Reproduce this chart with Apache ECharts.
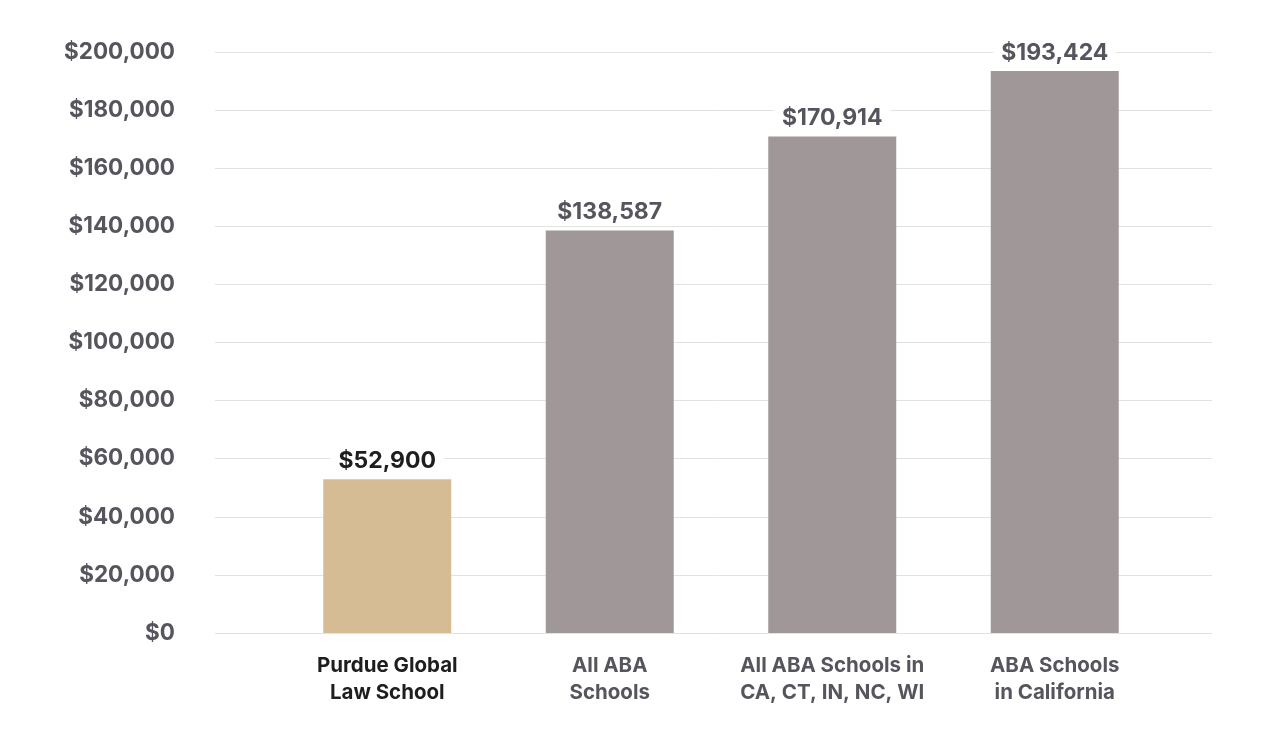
<!DOCTYPE html>
<html>
<head>
<meta charset="utf-8">
<script src="https://cdn.jsdelivr.net/npm/echarts@6/dist/echarts.min.js"></script>
<style>
  html, body { margin: 0; padding: 0; background: #fff; }
  #main { width: 1280px; height: 740px; }
</style>
</head>
<body>
<div id="main"></div>
<script>
// categories and values
var categories = [
    'Purdue Global\nLaw School',
    'All ABA\nSchools',
    'All ABA Schools in\nCA, CT, IN, NC, WI',
    'ABA Schools\nin California'
];
var costValues = [52900, 138587, 170914, 193424];
var barColors = ['#d6bc94', '#a09898', '#a09898', '#a09898'];
var labelColors = ['#1e1e1e', '#55555d', '#55555d', '#55555d'];

function money(v) {
    return '$' + v.toString().replace(/\B(?=(\d{3})+(?!\d))/g, ',');
}

var chart = echarts.init(document.getElementById('main'));

var fontFamily = 'Inter, "Noto Sans", sans-serif';

var option = {
    animation: false,
    grid: [
        // grid for the y axis and gridlines
        { left: 215, right: 68, top: 52, bottom: 107 },
        // narrower grid for the bars
        { left: 276, width: 890, top: 52, bottom: 107 }
    ],
    xAxis: [{
        gridIndex: 0,
        type: 'value',
        show: false
    }, {
        gridIndex: 1,
        type: 'category',
        data: categories,
        axisLine: { show: false },
        axisTick: { show: false },
        axisLabel: {
            interval: 0,
            hideOverlap: false,
            margin: 19,
            fontFamily: fontFamily,
            fontWeight: 'bold',
            fontSize: 20.5,
            lineHeight: 27,
            color: function (val, idx) { return labelColors[idx]; }
        }
    }],
    yAxis: [{
        gridIndex: 0,
        type: 'value',
        min: 0,
        max: 200000,
        interval: 20000,
        axisLine: { show: false },
        axisTick: { show: false },
        axisLabel: {
            margin: 40,
            fontFamily: fontFamily,
            fontWeight: 'bold',
            fontSize: 22.5,
            color: '#55555d',
            formatter: money
        },
        splitLine: { lineStyle: { color: '#e2e2e2', width: 1 } }
    }, {
        gridIndex: 1,
        type: 'value',
        min: 0,
        max: 200000,
        show: false
    }],
    series: [{
        type: 'bar',
        xAxisIndex: 1,
        yAxisIndex: 1,
        barWidth: 128,
        data: costValues.map(function (v, i) {
            return {
                value: v,
                itemStyle: { color: barColors[i] },
                label: { color: labelColors[i] }
            };
        }),
        label: {
            show: true,
            position: 'top',
            distance: 5,
            fontFamily: fontFamily,
            fontWeight: 'bold',
            fontSize: 23,
            backgroundColor: '#fff',
            padding: [2, 8],
            formatter: function (p) { return money(p.value); }
        }
    }]
};

chart.setOption(option);
</script>
</body>
</html>
